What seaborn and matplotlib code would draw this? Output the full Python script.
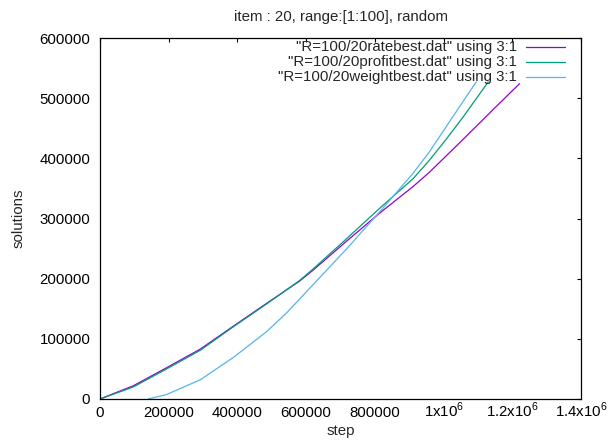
import pandas as pd
import matplotlib
matplotlib.use("Agg")
import matplotlib.pyplot as plt
import seaborn as sns

# values
rate_step = [0, 97000, 194000, 292000, 388000, 485000, 581000, 620000, 717000, 814000, 911000, 959000, 1047000, 1153000, 1221000]
rate_sol = [0, 22000, 52000, 83000, 121000, 159000, 196000, 214000, 262000, 309000, 353000, 377000, 426000, 486000, 524000]

profit_step = [0, 97000, 194000, 292000, 388000, 485000, 581000, 620000, 717000, 814000, 911000, 959000, 1008000, 1056000, 1130000]
profit_sol = [0, 20000, 50000, 81000, 120000, 158000, 197000, 216000, 266000, 317000, 366000, 397000, 432000, 468000, 527000]

weight_step = [140000, 194000, 292000, 388000, 485000, 543000, 581000, 620000, 717000, 814000, 911000, 959000, 1056000, 1095000]
weight_sol = [0, 7500, 32000, 69000, 112000, 143000, 166000, 190000, 249000, 311000, 375000, 411000, 494000, 527000]

labels = ['"R=100/20ratebest.dat" using 3:1',
          '"R=100/20profitbest.dat" using 3:1',
          '"R=100/20weightbest.dat" using 3:1']
colors = ["#9400D3", "#009E73", "#56B4E9"]

xticks = [0, 200000, 400000, 600000, 800000, 1000000, 1200000, 1400000]
xticklabels = ["0", "200000", "400000", "600000", "800000",
               r"1x10$^{6}$", r"1.2x10$^{6}$", r"1.4x10$^{6}$"]
yticks = [0, 100000, 200000, 300000, 400000, 500000, 600000]

df = pd.concat([
    pd.DataFrame({"step": rate_step, "solutions": rate_sol, "series": labels[0]}),
    pd.DataFrame({"step": profit_step, "solutions": profit_sol, "series": labels[1]}),
    pd.DataFrame({"step": weight_step, "solutions": weight_sol, "series": labels[2]}),
])

sns.set_style("white")
plt.rcParams["font.family"] = ["Liberation Sans", "DejaVu Sans"]
plt.rcParams["mathtext.fontset"] = "custom"
plt.rcParams["mathtext.rm"] = "Liberation Sans"
fs = 10.8

fig = plt.figure(figsize=(6.08, 4.43), dpi=100)
ax = fig.add_axes([100 / 608, 44 / 443, 481 / 608, 361 / 443])

sns.lineplot(data=df, x="step", y="solutions", hue="series", palette=colors,
             hue_order=labels, sort=False, estimator=None, legend=False,
             linewidth=0.9, ax=ax)

ax.set_xlim(0, 1400000)
ax.set_ylim(0, 600000)
ax.set_xticks(xticks)
ax.set_xticklabels(xticklabels)
ax.set_yticks(yticks)
ax.set_yticklabels([str(v) for v in yticks])
ax.tick_params(direction="in", length=3, width=0.8, top=True, right=True,
               labelsize=fs, colors="black")
ax.tick_params(axis="x", pad=13)
ax.tick_params(axis="y", pad=7)
for t in ax.get_xticklabels():
    t.set_va("baseline")
for s in ax.spines.values():
    s.set_linewidth(0.9)
    s.set_color("black")

ax.set_xlabel("step", fontsize=fs, labelpad=3)
ax.set_ylabel("solutions", fontsize=fs, labelpad=10)
ax.set_title("item : 20, range:[1:100], random", fontsize=fs, pad=12)

# gnuplot style key: right aligned text, sample line after it
for i, (lab, col) in enumerate(zip(labels, colors)):
    yy = 0.975 - i * 0.042
    ax.text(0.867, yy, lab, transform=ax.transAxes, ha="right", va="center", fontsize=fs)
    ax.plot([0.886, 0.967], [yy, yy], transform=ax.transAxes, color=col, linewidth=0.9)

fig.savefig("out.png", dpi=100)
